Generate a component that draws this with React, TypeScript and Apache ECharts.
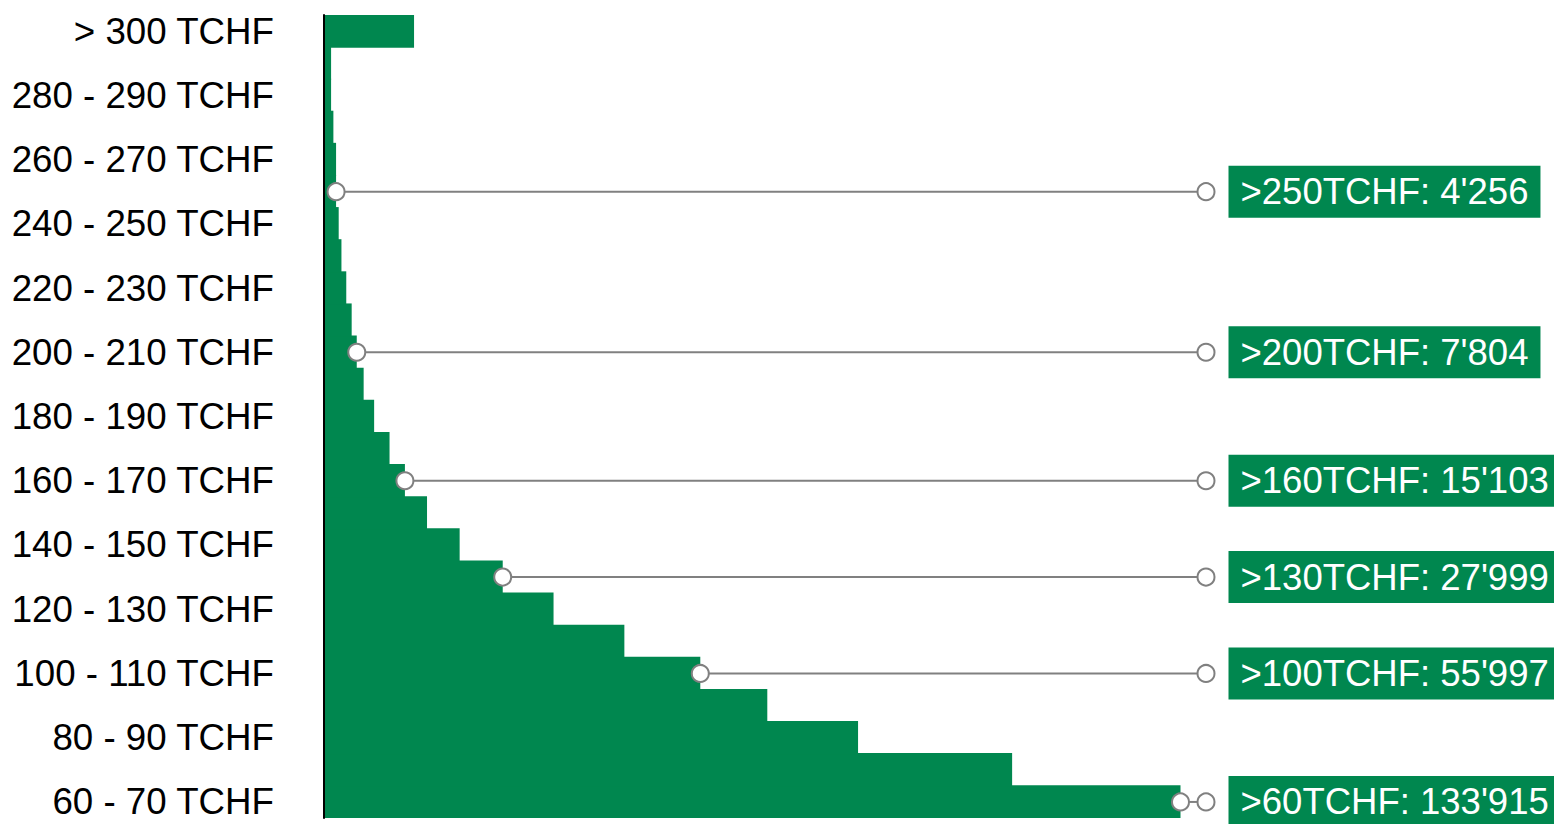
import React, { useEffect, useRef } from "react";
import * as echarts from "echarts";

const categories = [
  "60 - 70 TCHF", "70 - 80 TCHF", "80 - 90 TCHF", "90 - 100 TCHF",
  "100 - 110 TCHF", "110 - 120 TCHF", "120 - 130 TCHF", "130 - 140 TCHF",
  "140 - 150 TCHF", "150 - 160 TCHF", "160 - 170 TCHF", "170 - 180 TCHF",
  "180 - 190 TCHF", "190 - 200 TCHF", "200 - 210 TCHF", "210 - 220 TCHF",
  "220 - 230 TCHF", "230 - 240 TCHF", "240 - 250 TCHF", "250 - 260 TCHF",
  "260 - 270 TCHF", "270 - 280 TCHF", "280 - 290 TCHF", "290 - 300 TCHF",
  "> 300 TCHF",
];

const counts = [
  26462, 21260, 16500, 13696,
  11626, 9280, 7092,
  5522, 4191, 3183,
  2500, 2025, 1549, 1225,
  1012, 855, 688, 539, 454,
  373, 373, 290, 219, 219, 2782,
];

// cumulative markers: category index where the marker sits, label text
const markerIndex = [19, 14, 10, 7, 4, 0];
const markerThreshold = [">250TCHF", ">200TCHF", ">160TCHF", ">130TCHF", ">100TCHF", ">60TCHF"];
const markerTotal = ["4'256", "7'804", "15'103", "27'999", "55'997", "133'915"];

const axisMax = 27250;
const GREEN = "#00874F";
const GREY = "#808080";
const FONT = "Liberation Sans, Arial, sans-serif";

export default function App() {
  const ref = useRef<HTMLDivElement>(null);
  useEffect(() => {
    if (!ref.current) return;
    const chart = echarts.init(ref.current, null, { renderer: "svg" });
    const markerSeries = markerIndex.map((idx, i) => ({
      type: "line",
      z: 5,
      symbol: "circle",
      symbolSize: 17,
      lineStyle: { color: GREY, width: 2 },
      itemStyle: { color: "#ffffff", borderColor: GREY, borderWidth: 2 },
      data: [
        { value: [counts[idx], categories[idx]], label: { show: false } },
        {
          value: [axisMax, categories[idx]],
          label: {
            show: true,
            position: "right",
            distance: 13,
            formatter: `${markerThreshold[i]}: ${markerTotal[i]}`,
            color: "#ffffff",
            fontSize: 36.5,
            fontFamily: FONT,
            backgroundColor: GREEN,
            padding: [8, 12, 8, 12],
            lineHeight: 36,
          },
        },
      ],
    }));
    chart.setOption({
      animation: false,
      grid: { left: 324, right: 348, top: 15, bottom: 6, containLabel: false },
      xAxis: {
        type: "value",
        min: 0,
        max: axisMax,
        show: false,
      },
      yAxis: {
        type: "category",
        data: categories,
        axisTick: { show: false },
        axisLine: { show: true, lineStyle: { color: "#000000", width: 2 } },
        axisLabel: {
          interval: 1,
          color: "#000000",
          fontSize: 36.7,
          fontFamily: FONT,
          margin: 50,
        },
        z: 10,
      },
      series: [
        {
          type: "bar",
          data: counts,
          barWidth: "104%",
          itemStyle: { color: GREEN },
          z: 2,
        },
        ...markerSeries,
      ],
    });
    return () => chart.dispose();
  }, []);
  return (
    <div
      ref={ref}
      style={{ position: "absolute", left: 0, top: 0, width: 1554, height: 824 }}
    />
  );
}
